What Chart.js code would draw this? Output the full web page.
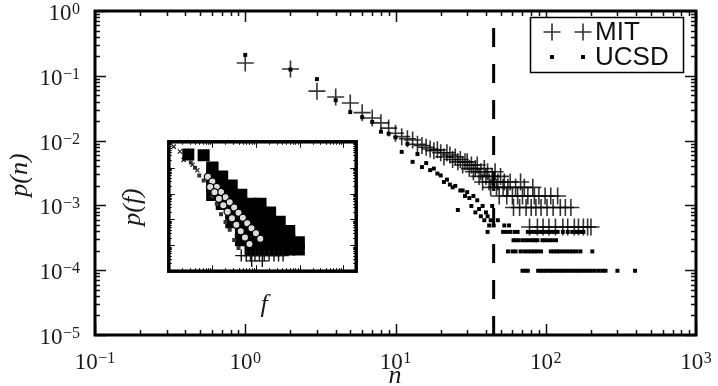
<!DOCTYPE html>
<html>
<head>
<meta charset="utf-8">
<script src="https://cdn.jsdelivr.net/npm/chart.js@4.4.1/dist/chart.umd.min.js"></script>
<style>
  html, body { margin: 0; padding: 0; background: #fff; }
  #wrap { position: relative; width: 718px; height: 386px; overflow: hidden; }
  #main { position: absolute; left: 0; top: 0; }
  #inset { position: absolute; left: 160px; top: 133px; }
</style>
</head>
<body>
<div id="wrap">
  <canvas id="main" width="718" height="386"></canvas>
  <canvas id="inset" width="205" height="147"></canvas>
</div>
<script>
// MIT: n e p(n)
const mitN = [1, 2, 3, 4, 5, 6, 7, 8, 9, 10, 11, 12, 13, 14, 15, 16, 17, 18, 19, 20,
  21, 22, 23, 24, 25, 26, 27, 28, 29, 30, 31, 32, 33, 34, 35, 36, 37, 38, 39, 40,
  41, 42, 43, 44, 45, 46, 47, 48, 49, 50, 52, 53, 55, 56, 58, 60, 61, 63, 65, 67,
  68, 70, 72, 74, 76, 78, 80, 82, 84, 86, 88, 90, 93, 96, 99, 102, 105, 108, 112, 116,
  120, 125, 130, 135, 140, 147, 155, 165, 178, 190, 200];
const mitP = [0.158, 0.127, 0.058, 0.047, 0.038, 0.027, 0.0223, 0.0188, 0.0156, 0.013, 0.0115, 0.0107, 0.0102, 0.0088, 0.0084, 0.0079, 0.0074, 0.007, 0.0072, 0.0065,
  0.0056, 0.0065, 0.006, 0.0051, 0.0056, 0.0047, 0.0051, 0.0042, 0.0047, 0.0047, 0.0037, 0.0042, 0.0033, 0.0037, 0.0042, 0.0028, 0.0033, 0.0023, 0.0037, 0.0028,
  0.0033, 0.0023, 0.0019, 0.0028, 0.0023, 0.0033, 0.0019, 0.0023, 0.0014, 0.0028, 0.0019, 0.0023, 0.0014, 0.0019, 0.0023, 0.0014, 0.00093, 0.0019, 0.0014, 0.00093,
  0.0023, 0.0014, 0.0019, 0.00093, 0.0014, 0.000465, 0.00093, 0.0019, 0.0014, 0.00093, 0.000465, 0.0014, 0.00093, 0.000465, 0.0014, 0.00093, 0.000465, 0.0014, 0.00093, 0.000465,
  0.0014, 0.00093, 0.000465, 0.00093, 0.000465, 0.00093, 0.000465, 0.000465, 0.000465, 0.000465, 0.000465];

// UCSD: n e p(n)
const ucsdN = [1, 2, 3, 4, 5, 6, 7, 8, 9, 10, 11, 12, 13, 14, 15, 16, 17, 18, 19, 20,
  21, 22, 23, 24, 25, 26, 27, 28, 29, 30, 31, 32, 33, 34, 35, 36, 37, 38, 39, 40,
  41, 42, 43, 44, 45, 48, 53, 57,
  41, 52, 55, 58, 62, 65, 76, 80, 84, 87, 92, 95, 100, 105, 110, 115, 120, 130, 140, 150, 160, 165, 172, 178,
  61, 63, 66, 70, 74, 78, 82, 85, 88, 95, 99, 104, 110, 117,
  56, 60, 63, 68, 72, 76, 80, 84, 88, 93, 108, 113, 118, 123, 130, 137, 145, 152, 160, 170, 204,
  70, 73, 76, 89, 93, 97, 101, 106, 111, 116, 122, 128, 134, 141, 148, 156, 164, 172, 181, 190, 200, 212, 225, 238, 250, 300, 393];
const ucsdP = [0.21, 0.125, 0.089, 0.042, 0.0275, 0.023, 0.0194, 0.0137, 0.0128, 0.0112, 0.0067, 0.0089, 0.0047, 0.0062, 0.0039, 0.0045, 0.0035, 0.0037, 0.0031, 0.0029,
  0.0023, 0.0025, 0.0021, 0.0019, 0.002, 0.00085, 0.0017, 0.0017, 0.0014, 0.0016, 0.0013, 0.00098, 0.0014, 0.00078, 0.0012, 0.00088, 0.00068, 0.00098, 0.00059, 0.00078,
  0.00068, 0.00049, 0.00059, 0.00098, 0.00049, 0.00059, 0.00049, 0.00049,
  0.00039, 0.00039, 0.00039, 0.00039, 0.00039, 0.00039, 0.00039, 0.00039, 0.00039, 0.00039, 0.00039, 0.00039, 0.00039, 0.00039, 0.00039, 0.00039, 0.00039, 0.00039, 0.00039, 0.00039, 0.00039, 0.00039, 0.00039, 0.00039,
  0.00029, 0.00029, 0.00029, 0.00029, 0.00029, 0.00029, 0.00029, 0.00029, 0.00029, 0.00029, 0.00029, 0.00029, 0.00029, 0.00029,
  0.000195, 0.000195, 0.000195, 0.000195, 0.000195, 0.000195, 0.000195, 0.000195, 0.000195, 0.000195, 0.000195, 0.000195, 0.000195, 0.000195, 0.000195, 0.000195, 0.000195, 0.000195, 0.000195, 0.000195, 0.000195,
  0.000098, 0.000098, 0.000098, 0.000098, 0.000098, 0.000098, 0.000098, 0.000098, 0.000098, 0.000098, 0.000098, 0.000098, 0.000098, 0.000098, 0.000098, 0.000098, 0.000098, 0.000098, 0.000098, 0.000098, 0.000098, 0.000098, 0.000098, 0.000098, 0.000098, 0.000098, 0.000098];

// linha tracejada vertical
const limiteN = 45;

// marcas dos eixos (potências de 10) e expoentes
const xTicks = [0.1, 1, 10, 100, 1000];
const xExpoentes = ['\u22121', '0', '1', '2', '3'];
const yTicks = [1, 0.1, 0.01, 0.001, 0.0001, 0.00001];
const yExpoentes = ['0', '\u22121', '\u22122', '\u22123', '\u22124', '\u22125'];

// inset p(f): quadrados pretos (faixa densa)
const insetQuadF = [10, 10, 10, 10, 16.6, 16.6, 16.6, 16.6, 27.5, 27.5, 27.5, 27.5, 27.5,
  45.7, 45.7, 45.7, 45.7, 45.7, 45.7, 75.9, 75.9, 75.9, 75.9, 75.9, 75.9,
  126, 126, 126, 126, 126, 126, 209, 209, 209, 209, 209, 347, 347, 347, 347, 575, 575, 575, 955, 955];
const insetQuadP = [0.1, 0.0447, 0.02, 0.0089, 0.0447, 0.02, 0.0089, 0.004, 0.02, 0.0089, 0.004, 0.0018, 0.00079,
  0.0089, 0.004, 0.0018, 0.00079, 0.00035, 0.00016, 0.004, 0.0018, 0.00079, 0.00035, 0.00016, 0.00007,
  0.004, 0.0018, 0.00079, 0.00035, 0.00016, 0.00007, 0.0018, 0.00079, 0.00035, 0.00016, 0.00007, 0.00079, 0.00035, 0.00016, 0.00007, 0.00035, 0.00016, 0.00007, 0.00013, 0.00007];
// inset: quadrados grandes no topo
const insetGrandeF = [2.8, 6.3];
const insetGrandeP = [0.32, 0.3];
// inset: círculos abertos
const insetCircF = [7.9, 10, 12.6, 15.8, 20, 25, 31.6, 39.8, 50, 63, 79, 100, 126,
  8.9, 11.2, 14.1, 17.8, 22.4, 28.2, 35.5, 44.7, 56, 71];
const insetCircP = [0.045, 0.029, 0.018, 0.0115, 0.0072, 0.0046, 0.0029, 0.0018, 0.00115, 0.00072, 0.00046, 0.00029, 0.00018,
  0.0178, 0.0112, 0.0063, 0.0035, 0.002, 0.00112, 0.00063, 0.00035, 0.0002, 0.000112];
// inset: pontos pequenos
const insetPontoF = [3.2, 4, 5, 6.3, 7.9, 10, 12.6, 15.8, 20, 25, 31.6, 39.8];
const insetPontoP = [0.16, 0.1, 0.05, 0.032, 0.016, 0.0079, 0.004, 0.0016, 0.00079, 0.0004, 0.00016, 0.000079];
// inset: cruzes na base
const insetCruzF = [46, 60, 75, 95, 120, 155, 200, 260, 330, 420, 80, 140];
const insetCruzP = [0.00004, 0.00004, 0.00004, 0.00004, 0.00004, 0.00004, 0.00004, 0.00004, 0.00004, 0.00004, 0.000025, 0.000025];
// inset: marcas no canto superior
const insetTopoF = [1.3, 1.8, 2.2, 3.5, 4.5];
const insetTopoP = [0.65, 0.42, 0.2, 0.13, 0.08];

const pares = (xs, ys) => xs.map((v, i) => ({ x: v, y: ys[i] }));

// valores de marcas menores entre min e max (1..9 x 10^k)
function valoresLog(min, max) {
  const v = [];
  for (let e = Math.floor(Math.log10(min)); e <= Math.ceil(Math.log10(max)); e++) {
    for (let m = 1; m < 10; m++) {
      const val = m * Math.pow(10, e);
      if (val >= min * 0.999 && val <= max * 1.001) v.push({ val, major: m === 1 });
    }
  }
  return v;
}

// moldura com marcas para dentro nos quatro lados
function molduraPlugin(cfg) {
  return {
    id: 'moldura',
    afterDatasetsDraw(chart) {
      const { ctx, chartArea: a, scales: { x, y } } = chart;
      ctx.save();
      ctx.strokeStyle = '#111';
      ctx.lineWidth = cfg.tickWidth;
      ctx.beginPath();
      valoresLog(x.min, x.max).forEach(t => {
        const px = Math.round(x.getPixelForValue(t.val)) + 0.5;
        const len = t.major ? cfg.major : cfg.minor;
        ctx.moveTo(px, a.bottom); ctx.lineTo(px, a.bottom - len);
        ctx.moveTo(px, a.top); ctx.lineTo(px, a.top + len);
      });
      valoresLog(y.min, y.max).forEach(t => {
        const py = Math.round(y.getPixelForValue(t.val)) + 0.5;
        const len = t.major ? cfg.major : cfg.minor;
        ctx.moveTo(a.left, py); ctx.lineTo(a.left + len, py);
        ctx.moveTo(a.right, py); ctx.lineTo(a.right - len, py);
      });
      ctx.stroke();
      ctx.lineWidth = cfg.frame;
      ctx.strokeStyle = '#000';
      ctx.strokeRect(a.left, a.top, a.right - a.left, a.bottom - a.top);
      ctx.restore();
    }
  };
}

// rótulos 10^k, títulos e legenda
const textoPlugin = {
  id: 'textos',
  afterDraw(chart) {
    const { ctx, scales: { x, y } } = chart;
    const base = '23px "Liberation Serif", serif';
    const sup = '16px "Liberation Serif", serif';
    ctx.save();
    ctx.fillStyle = '#1a1a1a';
    ctx.textBaseline = 'alphabetic';
    ctx.textAlign = 'left';

    const rotulo = (exp, xEsq, yBase) => {
      ctx.font = base;
      ctx.fillText('10', xEsq, yBase);
      const w = ctx.measureText('10').width;
      ctx.font = sup;
      ctx.fillText(exp, xEsq + w + 0.5, yBase - 6);
    };
    const larg = exp => {
      ctx.font = base; const a = ctx.measureText('10').width;
      ctx.font = sup; return a + 0.5 + ctx.measureText(exp).width;
    };

    yTicks.forEach((v, i) => {
      const py = y.getPixelForValue(v);
      rotulo(yExpoentes[i], 80 - larg(yExpoentes[i]), py + 9);
    });
    xTicks.forEach((v, i) => {
      const px = x.getPixelForValue(v);
      rotulo(xExpoentes[i], px - larg(xExpoentes[i]) / 2, 368.5);
    });

    // títulos dos eixos
    ctx.font = 'italic 26px "Liberation Serif", serif';
    ctx.textAlign = 'center';
    ctx.fillText('n', 395, 383);
    ctx.textBaseline = 'middle';
    ctx.fillText('f', 264, 305);
    ctx.save();
    ctx.translate(20, 175);
    ctx.rotate(-Math.PI / 2);
    ctx.fillText('p(n)', 0, 0);
    ctx.restore();
    ctx.save();
    ctx.translate(133, 207);
    ctx.rotate(-Math.PI / 2);
    ctx.fillText('p(f)', 0, 0);
    ctx.restore();

    // legenda
    const ds = chart.data.datasets;
    ctx.fillStyle = '#fff';
    ctx.fillRect(530, 17, 153, 55);
    ctx.strokeStyle = '#000';
    ctx.lineWidth = 1.5;
    ctx.strokeRect(530.5, 17.5, 153, 55);
    ctx.font = '26px "Liberation Sans", Arial, sans-serif';
    ctx.textAlign = 'left';
    ctx.textBaseline = 'middle';
    [[ds[0], 32], [ds[1], 57]].forEach(([d, ly]) => {
      [552, 583].forEach(lx => {
        ctx.strokeStyle = d.borderColor;
        ctx.fillStyle = d.backgroundColor;
        if (d.pointStyle === 'cross') {
          ctx.lineWidth = d.pointBorderWidth;
          ctx.beginPath();
          ctx.moveTo(lx - d.pointRadius, ly); ctx.lineTo(lx + d.pointRadius, ly);
          ctx.moveTo(lx, ly - d.pointRadius); ctx.lineTo(lx, ly + d.pointRadius);
          ctx.stroke();
        } else {
          const s = d.pointRadius * Math.SQRT1_2;
          ctx.fillRect(lx - s, ly - s, 2 * s, 2 * s);
        }
      });
      ctx.fillStyle = '#111';
      ctx.fillText(d.label, 595, ly + 1);
    });
    ctx.restore();
  }
};

new Chart(document.getElementById('main'), {
  type: 'scatter',
  data: {
    datasets: [{
      label: 'MIT',
      data: pares(mitN, mitP),
      pointStyle: 'cross',
      pointRadius: 8.5,
      pointBorderWidth: 1.6,
      borderColor: 'rgba(0,0,0,0.8)',
      backgroundColor: 'rgba(0,0,0,0)',
      order: 2
    }, {
      label: 'UCSD',
      data: pares(ucsdN, ucsdP),
      pointStyle: 'rect',
      pointRadius: 2.8,
      pointBorderWidth: 0,
      borderColor: '#000',
      backgroundColor: '#000',
      order: 1
    }, {
      label: 'limite',
      data: [{ x: limiteN, y: 0.00001 }, { x: limiteN, y: 1 }],
      showLine: true,
      borderColor: '#000',
      borderWidth: 3,
      borderDash: [19, 17],
      pointRadius: 0,
      order: 0
    }]
  },
  options: {
    responsive: false,
    animation: false,
    layout: { padding: { left: 95, top: 11, right: 22, bottom: 51 } },
    plugins: { legend: { display: false }, tooltip: { enabled: false } },
    scales: {
      x: { type: 'logarithmic', min: 0.1, max: 1000, display: false },
      y: { type: 'logarithmic', min: 0.00001, max: 1, display: false }
    }
  },
  plugins: [molduraPlugin({ major: 11, minor: 5, tickWidth: 1.5, frame: 3 }), textoPlugin]
});

// gráfico inserido
new Chart(document.getElementById('inset'), {
  type: 'scatter',
  data: {
    datasets: [{
      data: pares(insetQuadF, insetQuadP),
      pointStyle: 'rect', pointRadius: 8.8, pointBorderWidth: 0,
      backgroundColor: '#000', borderColor: '#000', order: 5
    }, {
      data: pares(insetPontoF, insetPontoP),
      pointStyle: 'rect', pointRadius: 2.8, pointBorderWidth: 0,
      backgroundColor: '#333', borderColor: '#333', order: 4
    }, {
      data: pares(insetCircF, insetCircP),
      pointStyle: 'circle', pointRadius: 3.6, pointBorderWidth: 1.2,
      backgroundColor: '#ddd', borderColor: '#000', order: 3
    }, {
      data: pares(insetCruzF, insetCruzP),
      pointStyle: 'cross', pointRadius: 6, pointBorderWidth: 1.4,
      backgroundColor: '#000', borderColor: '#111', order: 2
    }, {
      data: pares(insetTopoF, insetTopoP),
      pointStyle: 'crossRot', pointRadius: 3, pointBorderWidth: 1.2,
      backgroundColor: '#000', borderColor: '#222', order: 1
    }, {
      data: pares(insetGrandeF, insetGrandeP),
      pointStyle: 'rect', pointRadius: 8.5, pointBorderWidth: 0,
      backgroundColor: '#000', borderColor: '#000', order: 0
    }]
  },
  options: {
    responsive: false,
    animation: false,
    layout: { padding: { left: 7, top: 7, right: 8, bottom: 7 } },
    plugins: { legend: { display: false }, tooltip: { enabled: false } },
    scales: {
      x: { type: 'logarithmic', min: 1, max: 20000, display: false },
      y: { type: 'logarithmic', min: 0.00001, max: 1, display: false }
    }
  },
  plugins: [{
    id: 'fundo',
    beforeDraw(chart) {
      const { ctx, chartArea: a } = chart;
      ctx.save();
      ctx.fillStyle = '#fff';
      ctx.fillRect(a.left, a.top, a.right - a.left, a.bottom - a.top);
      ctx.restore();
    }
  }, molduraPlugin({ major: 6, minor: 3, tickWidth: 1, frame: 3.5 })]
});
</script>
</body>
</html>
